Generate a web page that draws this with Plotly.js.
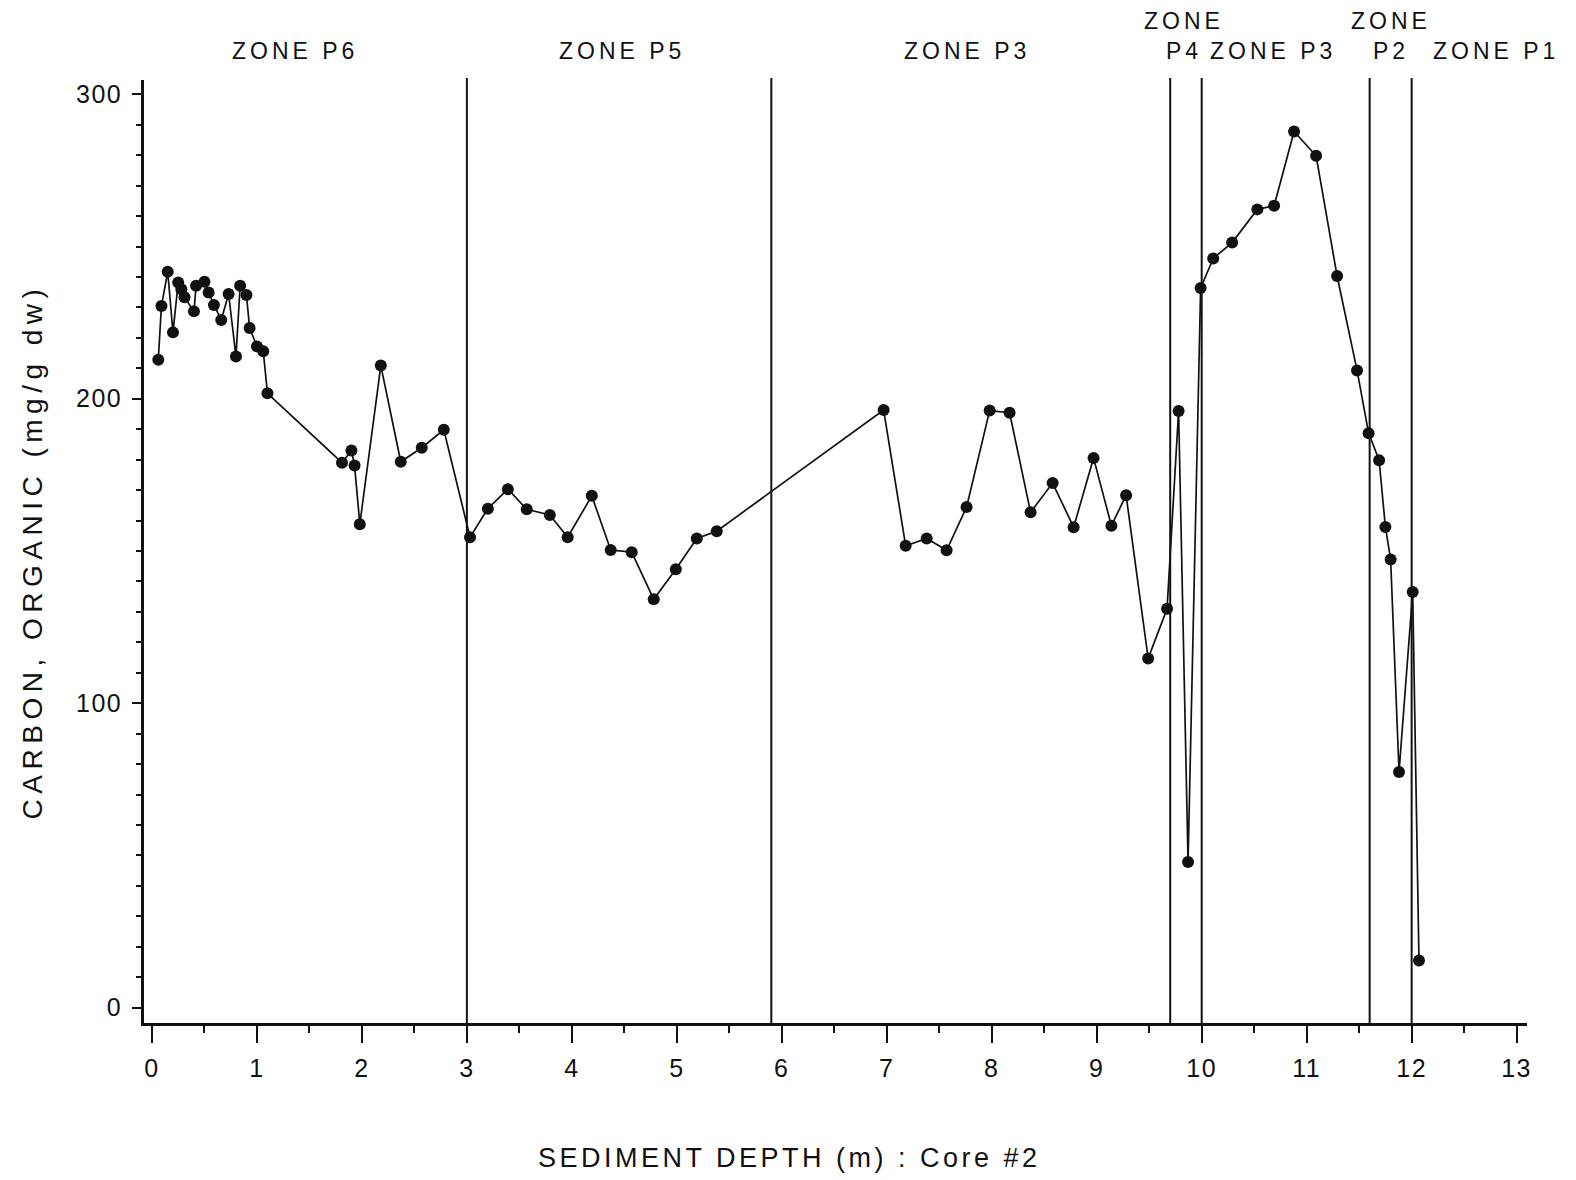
<!DOCTYPE html>
<html>
<head>
<meta charset="utf-8">
<script src="https://cdn.plot.ly/plotly-3.0.1.min.js"></script>
<style>
  body { margin: 0; background: #fff; }
  #chart { width: 1576px; height: 1180px; }
  .xtick text, .ytick text { letter-spacing: 1.5px; }
</style>
</head>
<body>
<div id="chart"></div>
<script>
// Sediment depth (m), Core #2
const depth = [0.06,0.09,0.15,0.20,0.25,0.28,0.31,0.40,0.42,0.50,
  0.54,0.59,0.66,0.73,0.80,0.84,0.90,0.93,1.00,1.06,
  1.10,1.81,1.90,1.93,1.98,2.18,2.37,2.57,2.78,
  3.03,3.20,3.39,3.57,3.79,3.96,4.19,4.37,4.57,4.78,4.99,5.19,5.38,
  6.97,7.18,7.38,7.57,7.76,7.98,8.17,8.37,8.58,8.78,
  8.97,9.14,9.28,9.49,9.67,9.78,9.87,9.99,10.11,10.29,
  10.53,10.69,10.88,11.09,11.29,11.48,11.59,11.69,11.75,11.80,
  11.88,12.01,12.07];
// Carbon, organic (mg/g dw)
const carbon = [212.8,230.5,241.7,221.8,238.2,236.0,233.3,228.7,237.1,238.4,
  234.9,230.8,225.9,234.4,213.9,237.1,234.1,223.2,217.2,215.6,
  201.8,179.0,183.0,178.1,158.8,210.9,179.3,183.9,189.8,
  154.5,163.9,170.3,163.7,161.8,154.5,168.1,150.3,149.6,134.1,144.0,154.1,156.5,
  196.3,151.7,154.1,150.2,164.4,196.1,195.4,162.7,172.3,157.8,
  180.5,158.3,168.3,114.7,131.0,196.0,47.8,236.4,246.1,251.3,
  262.2,263.4,287.8,279.8,240.3,209.3,188.7,179.8,157.9,147.2,
  77.4,136.5,15.5];
// Pollen zone boundaries (m)
const zoneBoundaries = [3.0, 5.9, 9.7, 10.0, 11.6, 12.0];
// Pollen zone labels and their label depth (m)
const zoneNames = ["ZONE P6", "ZONE P5", "ZONE P3", "ZONE<br>P4", "ZONE P3", "ZONE<br>P2", "ZONE P1"];
const zoneLabelDepth = [1.36, 4.48, 7.76, 9.83, 10.68, 11.80, 12.80];
// Axis ticks
const xTickVals = [0,1,2,3,4,5,6,7,8,9,10,11,12,13];
const yTickVals = [0,100,200,300];

const FONT = '"Liberation Sans", Arial, Helvetica, sans-serif';
const INK = '#111111';

const trace = {
  x: depth, y: carbon, type: 'scatter', mode: 'lines+markers',
  line: { color: INK, width: 1.7 },
  marker: { color: INK, size: 12 },
  hoverinfo: 'x+y', showlegend: false
};

const shapes = zoneBoundaries.map(b => ({
  type: 'line', xref: 'x', yref: 'paper', x0: b, x1: b, y0: 0, y1: 1.002,
  line: { color: INK, width: 2 }
}));

const annotations = zoneNames.map((name, i) => {
  const two = name.indexOf('<br>') >= 0;
  return {
    xref: 'x', yref: 'paper', x: zoneLabelDepth[i],
    y: two ? 1.0463 : 1.0309, xanchor: 'center', yanchor: 'middle',
    text: '<span style="letter-spacing:4px">' + name + '</span>',
    showarrow: false, font: { family: FONT, size: 23, color: INK }
  };
});
annotations.push({
  xref: 'paper', yref: 'paper', x: 0.4668, y: -0.1435, xanchor: 'center', yanchor: 'middle',
  text: '<span style="letter-spacing:3.5px">SEDIMENT DEPTH (m) : Core #2</span>',
  showarrow: false, font: { family: FONT, size: 27, color: INK }
});

const layout = {
  width: 1576, height: 1180,
  margin: { l: 144, r: 49.3, t: 80, b: 157.3, pad: 0 },
  paper_bgcolor: '#ffffff', plot_bgcolor: '#ffffff',
  font: { family: FONT, color: INK },
  xaxis: {
    range: [-0.076, 13.099], showgrid: false, zeroline: false,
    showline: true, linecolor: INK, linewidth: 2.5,
    tickmode: 'array', tickvals: xTickVals, ticks: 'outside', ticklen: 17, tickwidth: 2, tickcolor: INK,
    minor: { dtick: 0.5, tick0: 0, ticks: 'outside', ticklen: 7, tickwidth: 2, tickcolor: INK, showgrid: false },
    tickfont: { family: FONT, size: 25, color: INK }, ticklabelstandoff: 4,
    automargin: false
  },
  yaxis: {
    range: [-5.06, 304.7], showgrid: false, zeroline: false,
    showline: true, linecolor: INK, linewidth: 2.5,
    tickmode: 'array', tickvals: yTickVals, ticks: 'outside', ticklen: 9, tickwidth: 2, tickcolor: INK,
    minor: { dtick: 10, tick0: 0, ticks: 'outside', ticklen: 5, tickwidth: 1.5, tickcolor: INK, showgrid: false },
    tickfont: { family: FONT, size: 25, color: INK }, ticklabelstandoff: 5,
    title: { text: '<span style="letter-spacing:5.5px">CARBON, ORGANIC (mg/g dw)</span>',
             font: { family: FONT, size: 28, color: INK }, standoff: 26 },
    automargin: false
  },
  shapes: shapes,
  annotations: annotations,
  showlegend: false
};

Plotly.newPlot('chart', [trace], layout, { displayModeBar: false });
</script>
</body>
</html>
